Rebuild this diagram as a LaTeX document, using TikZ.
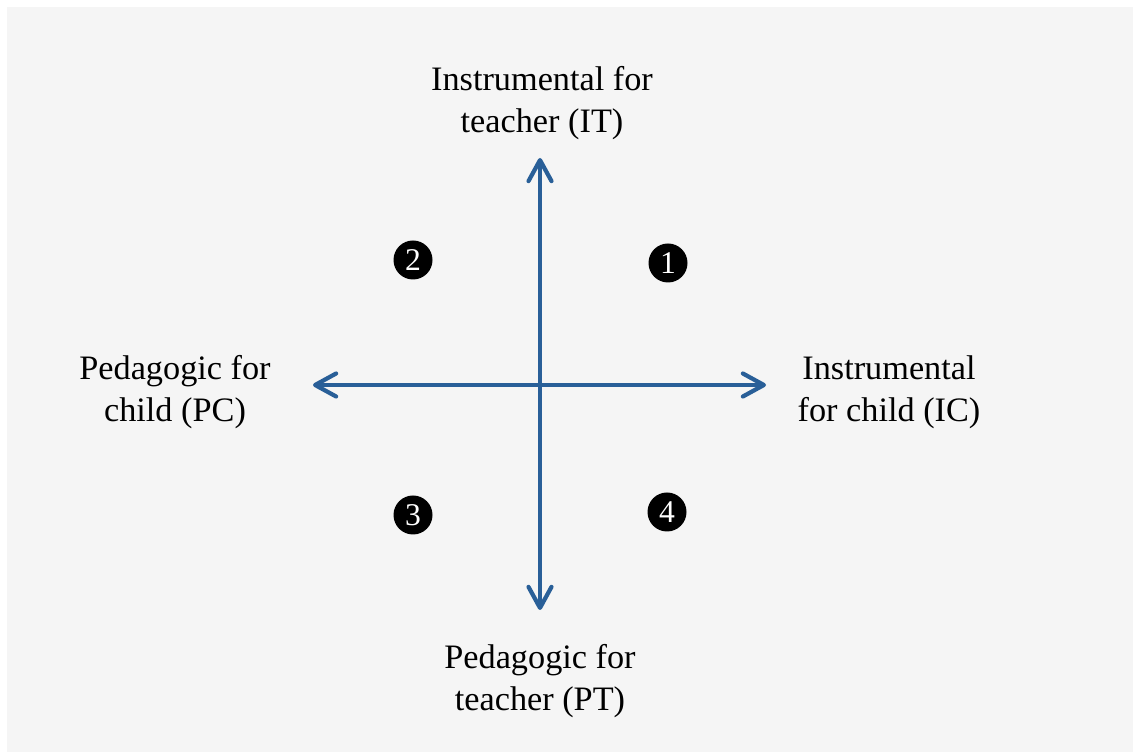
\documentclass[tikz,border=0pt]{standalone}
\usepackage{fontspec}
\setmainfont{Liberation Serif}
\usepackage{tikz}
\usetikzlibrary{arrows.meta}

\definecolor{axisblue}{RGB}{41,95,152}
\definecolor{panelgray}{RGB}{245,245,245}

\tikzset{
  axis/.style={draw=axisblue, line width=2.4pt,
    {Straight Barb[length=0.42cm,width=0.46cm,round]}-{Straight Barb[length=0.42cm,width=0.46cm,round]}},
  pole/.style={align=center, anchor=base, inner sep=0pt,
    font=\fontsize{19.5}{24}\selectfont},
  quad/.style={circle, fill=black, text=white, minimum size=0.78cm, inner sep=0pt,
    font=\fontsize{18}{18}\selectfont}
}

\begin{document}
\begin{tikzpicture}
% Fondo
\useasboundingbox (0,0) rectangle (22.66,15.04);
\fill[white] (0,0) rectangle (22.66,15.04);
\fill[panelgray] (0.14,0) rectangle (22.66,14.90);
% Ejes
\coordinate (itEnd) at (10.80,11.88);
\coordinate (ptEnd) at (10.80,2.84);
\coordinate (pcEnd) at (6.26,7.34);
\coordinate (icEnd) at (15.32,7.34);
\draw[axis] (ptEnd) -- (itEnd);
\draw[axis] (pcEnd) -- (icEnd);
% Polos (base = ultima linea)
\node[pole] (it) at (10.84,12.38) {Instrumental for\\teacher (IT)};
\node[pole] (pt) at (10.80,0.82) {Pedagogic for\\teacher (PT)};
\node[pole] (pc) at (3.50,6.60) {Pedagogic for\\child (PC)};
\node[pole] (ic) at (17.78,6.60) {Instrumental\\for child (IC)};
% Cuadrantes
\node[quad] (q1) at (13.36,9.78) {1};
\node[quad] (q2) at (8.26,9.84) {2};
\node[quad] (q3) at (8.26,4.74) {3};
\node[quad] (q4) at (13.34,4.80) {4};
\end{tikzpicture}
\end{document}
